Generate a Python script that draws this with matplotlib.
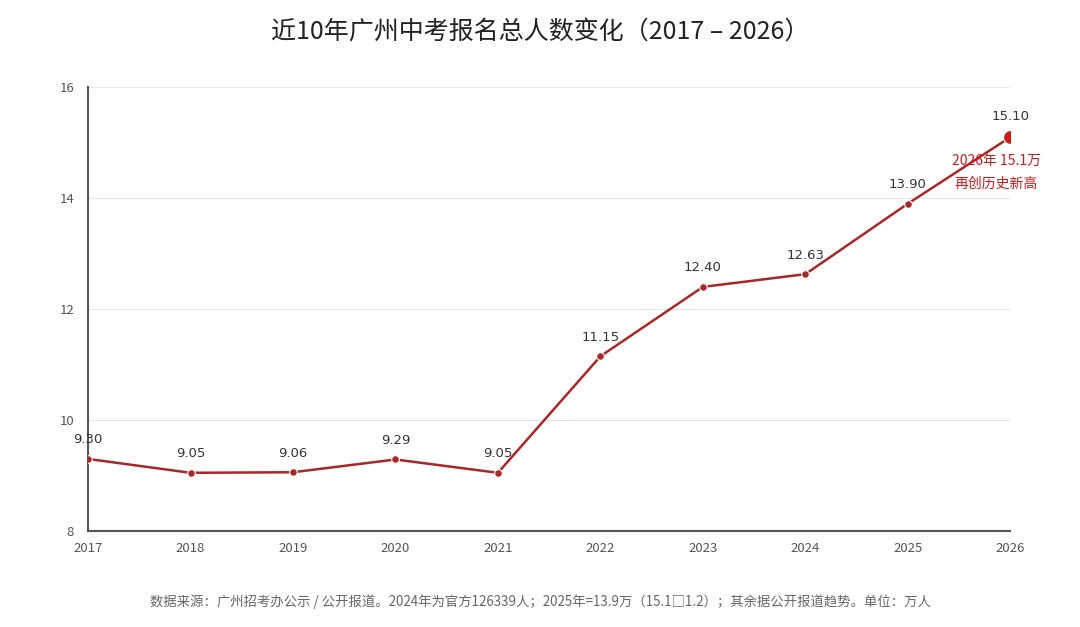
import matplotlib
matplotlib.use('Agg')
import matplotlib.pyplot as plt

plt.rcParams['font.family'] = ['Noto Sans CJK SC', 'DejaVu Sans']

# 数据
years = [2017, 2018, 2019, 2020, 2021, 2022, 2023, 2024, 2025, 2026]
applicants = [9.30, 9.05, 9.06, 9.29, 9.05, 11.15, 12.40, 12.63, 13.90, 15.10]
value_labels = ['9.30', '9.05', '9.06', '9.29', '9.05', '11.15', '12.40', '12.63', '13.90', '15.10']
y_ticks = [8, 10, 12, 14, 16]

title = '近10年广州中考报名总人数变化（2017 – 2026）'
note = '2026年 15.1万\n再创历史新高'
footer = ('数据来源：广州招考办公示 / 公开报道。2024年为官方126339人；'
          '2025年=13.9万（15.1□1.2）；其余据公开报道趋势。单位：万人')

line_color = '#a8282a'
last_color = '#c81e1e'

fig = plt.figure(figsize=(10.8, 6.27), dpi=100)
ax = fig.add_axes([0.0815, 0.153, 0.854, 0.708])

ax.plot(years, applicants, color=line_color, lw=1.8, marker='o', markersize=5.5,
        markerfacecolor=line_color, markeredgecolor='white', markeredgewidth=0.8, zorder=3)
ax.plot(years[-1], applicants[-1], 'o', color=last_color, markersize=10,
        markeredgecolor='white', markeredgewidth=0.8, zorder=4)

for x, y, lab in zip(years, applicants, value_labels):
    dy = 10 if x == years[-1] else 9
    ax.annotate(lab, (x, y), xytext=(0, dy), textcoords='offset points',
                ha='center', va='bottom', fontsize=9.5, color='#333333',
                family=['DejaVu Sans'])

ax.annotate(note, (years[-1], applicants[-1]), xytext=(-10, -12), textcoords='offset points',
            ha='center', va='top', fontsize=10, color=last_color, linespacing=1.8)

ax.set_xlim(years[0], years[-1])
ax.set_ylim(y_ticks[0], y_ticks[-1])
ax.set_xticks(years)
ax.set_yticks(y_ticks)
ax.tick_params(axis='both', length=0, labelsize=9.5, colors='#555555')
ax.tick_params(axis='x', pad=8)
ax.tick_params(axis='y', pad=10)
ax.grid(axis='y', color='#e6e6e6', lw=0.8)
ax.set_axisbelow(True)
for s in ['top', 'right']:
    ax.spines[s].set_visible(False)
for s in ['left', 'bottom']:
    ax.spines[s].set_color('#555555')
    ax.spines[s].set_linewidth(1.5)

fig.text(0.5, 0.948, title, ha='center', va='center', fontsize=18, color='#222222')
fig.text(0.5, 0.041, footer, ha='center', va='center', fontsize=9.6, color='#666666')

fig.savefig('out.png', dpi=100, facecolor='white')
